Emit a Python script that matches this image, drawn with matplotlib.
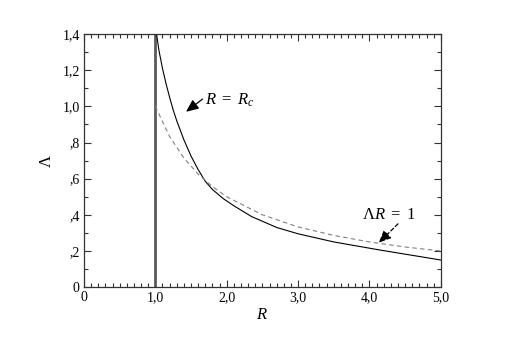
import numpy as np
import matplotlib
matplotlib.use("Agg")
import matplotlib.pyplot as plt
from matplotlib.ticker import MultipleLocator, FuncFormatter

plt.rcParams['font.family'] = 'Liberation Serif'
plt.rcParams['mathtext.fontset'] = 'custom'
plt.rcParams['mathtext.rm'] = 'Liberation Serif'
plt.rcParams['mathtext.it'] = 'Liberation Serif:italic'

# solid curve (boundary)
R_solid = [1.01, 1.05, 1.1, 1.15, 1.2, 1.25, 1.3, 1.4, 1.5, 1.6, 1.7, 1.8, 1.95, 2.1, 2.35, 2.7, 3.0, 3.5, 4.15, 5.0]
L_solid = [1.42, 1.31, 1.21, 1.125, 1.05, 0.98, 0.92, 0.815, 0.725, 0.65, 0.585, 0.54, 0.49, 0.45, 0.39, 0.33, 0.295, 0.25, 0.205, 0.15]

# dashed curve, Lambda*R = 1
R_dash = [1.0, 1.2, 1.4, 1.6, 1.8, 2.0, 2.5, 3.0, 3.5, 4.0, 4.5, 5.0]
L_dash = [1.0, 0.833, 0.714, 0.625, 0.556, 0.5, 0.4, 0.333, 0.286, 0.25, 0.222, 0.2]

R_c = 1.0

fig = plt.figure(figsize=(5.09, 3.51), dpi=100)
ax = fig.add_axes([0.165, 0.182, 0.701, 0.721])

ax.plot([R_c, R_c], [0, 1.4], color='#5a5a5a', lw=2.0)
ax.plot(R_solid, L_solid, color='black', lw=0.8)
ax.plot(R_dash, L_dash, color='#808080', lw=0.8, dashes=(4, 3))

ax.set_xlim(0, 5)
ax.set_ylim(0, 1.4)

ax.xaxis.set_major_locator(MultipleLocator(1.0))
ax.xaxis.set_minor_locator(MultipleLocator(0.1))
ax.yaxis.set_major_locator(MultipleLocator(0.2))
ax.yaxis.set_minor_locator(MultipleLocator(0.1))

def fmt_x(v, pos):
    if abs(v) < 1e-9:
        return "0"
    return ("%.1f" % v).replace('.', ',')

def fmt_y(v, pos):
    if abs(v) < 1e-9:
        return "0"
    s = ("%.1f" % v).replace('.', ',')
    if s.startswith("0"):
        s = s[1:]
    return s

ax.xaxis.set_major_formatter(FuncFormatter(fmt_x))
ax.yaxis.set_major_formatter(FuncFormatter(fmt_y))

ax.tick_params(which='both', direction='in', top=True, right=True, colors='#333333',
               labelcolor='black', labelsize=10, width=0.8)
ax.tick_params(which='major', length=5, pad=3)
ax.tick_params(which='minor', length=3)
for s in ax.spines.values():
    s.set_color('#333333')
    s.set_linewidth(0.9)

ax.set_xlabel('$R$', fontsize=12, labelpad=2)
ax.set_ylabel('$\\Lambda$', fontsize=12, labelpad=5)

head = '-|>,head_length=0.75,head_width=0.33'
ax.annotate('', xy=(1.43, 0.97), xytext=(1.66, 1.04),
            arrowprops=dict(arrowstyle=head, color='black', lw=0.9,
                            shrinkA=0, shrinkB=0))
ax.text(1.69, 1.035, '$R\\ =\\ R_c$', fontsize=12, va='center', ha='left')

ax.annotate('', xy=(4.13, 0.245), xytext=(4.40, 0.35),
            arrowprops=dict(arrowstyle=head, color='black', lw=0.9,
                            linestyle=(0, (3, 2)), shrinkA=0, shrinkB=0))
ax.text(3.89, 0.398, '$\\Lambda R\\ =\\ 1$', fontsize=12, va='center', ha='left')

fig.savefig('out.png', dpi=100)
